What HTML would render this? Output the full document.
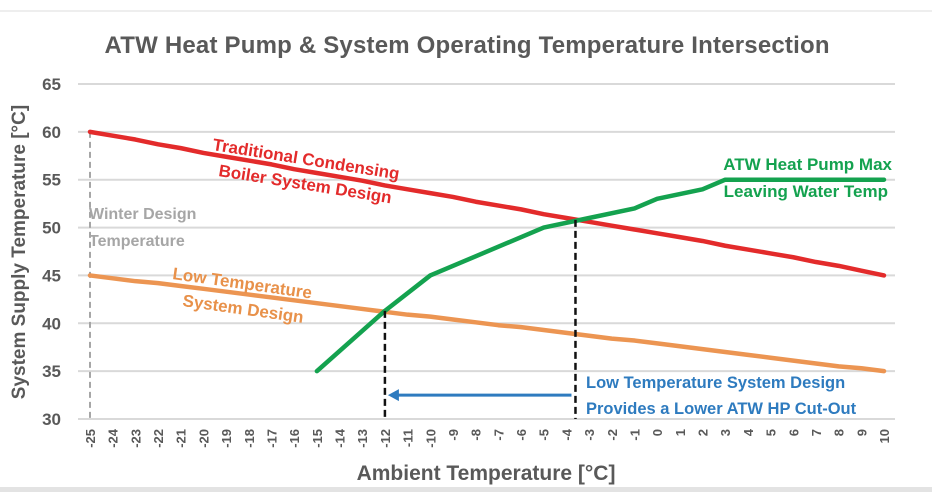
<!DOCTYPE html>
<html><head><meta charset="utf-8"><style>
body{margin:0;background:#fff;}
svg{display:block;font-family:"Liberation Sans",sans-serif;}
</style></head><body>
<svg id="c" width="932" height="492">
<line x1="0" y1="11" x2="932" y2="11" stroke="#ddd"/>
<rect x="0" y="487" width="932" height="5" fill="#e3e3e3"/>
<text x="467" y="53" text-anchor="middle" font-size="24" font-weight="bold" fill="#595959" textLength="725">ATW Heat Pump &amp; System Operating Temperature Intersection</text>
<text transform="translate(25,252) rotate(-90)" text-anchor="middle" font-size="19" font-weight="bold" fill="#595959">System Supply Temperature [°C]</text>
<text x="486" y="480" text-anchor="middle" font-size="21" font-weight="bold" fill="#595959">Ambient Temperature [°C]</text>
<g id="grid"></g><g id="ylab"></g><g id="xlab"></g><g id="series"></g>
<text x="89" y="219" font-size="16" font-weight="bold" fill="#a6a6a6">Winter Design</text>
<text x="89" y="246" font-size="16" font-weight="bold" fill="#a6a6a6">Temperature</text>
<text x="212" y="150" font-size="17" font-weight="bold" fill="#e32b2b" transform="rotate(9 212 150)">Traditional Condensing</text>
<text x="218" y="176" font-size="17" font-weight="bold" fill="#e32b2b" transform="rotate(9 218 176)">Boiler System Design</text>
<text x="172" y="279" font-size="17" font-weight="bold" fill="#e8914a" transform="rotate(8 172 279)">Low Temperature</text>
<text x="182" y="306" font-size="17" font-weight="bold" fill="#e8914a" transform="rotate(8 182 306)">System Design</text>
<text x="892" y="170" text-anchor="end" font-size="17" font-weight="bold" fill="#14a24f">ATW Heat Pump Max</text>
<text x="888" y="197" text-anchor="end" font-size="17" font-weight="bold" fill="#14a24f">Leaving Water Temp</text>
<text x="586" y="388" font-size="16.5" font-weight="bold" fill="#2e7bbf">Low Temperature System Design</text>
<text x="586" y="414" font-size="16.5" font-weight="bold" fill="#2e7bbf">Provides a Lower ATW HP Cut-Out</text>
</svg>
<script>
const categories=[-25,-24,-23,-22,-21,-20,-19,-18,-17,-16,-15,-14,-13,-12,-11,-10,-9,-8,-7,-6,-5,-4,-3,-2,-1,0,1,2,3,4,5,6,7,8,9,10];
const redValues=[60,59.6,59.2,58.7,58.3,57.8,57.4,57.0,56.6,56.1,55.7,55.3,54.9,54.4,54.0,53.6,53.2,52.7,52.3,51.9,51.4,51.0,50.6,50.2,49.8,49.4,49.0,48.6,48.1,47.7,47.3,46.9,46.4,46.0,45.5,45.0];
const orangeValues=[45,44.7,44.4,44.2,43.9,43.6,43.3,43.0,42.7,42.4,42.1,41.8,41.5,41.2,40.9,40.7,40.4,40.1,39.8,39.6,39.3,39.0,38.7,38.4,38.2,37.9,37.6,37.3,37.0,36.7,36.4,36.1,35.8,35.5,35.3,35.0];
const greenX=[-15,-12,-10,-8,-5,-3,-1,0,1,2,3,10];
const greenValues=[35,41.3,45,47,50,51,52,53,53.5,54,55,55];
const yTicks=[30,35,40,45,50,55,60,65];
const winterX=-25, lowCutX=-12, highCutX=-3.6, highCutY=50.8, lowCutY=41.3, arrowY=32.5;
const NS="http://www.w3.org/2000/svg";
const X=v=>90+(v+25)*(884-90)/35;
const Y=v=>419-(v-30)*(419-84)/35;
function mk(tag,attrs,parent,txt){const e=document.createElementNS(NS,tag);for(const k in attrs)e.setAttribute(k,attrs[k]);if(txt!=null)e.textContent=txt;document.getElementById(parent).appendChild(e);return e;}
yTicks.forEach(t=>{
 const l=mk('line',{x1:78,x2:895,y1:Y(t),y2:Y(t),stroke:'#d9d9d9','stroke-width':2},'grid');
 
 
 const s=mk('text',{x:61,y:Y(t)+6,'text-anchor':'end','font-size':17,'font-weight':'bold',fill:'#595959'},'ylab',t);
 
 
});
categories.forEach(c=>{
 const s=mk('text',{transform:`translate(${X(c)+5},429) rotate(-90)`,'text-anchor':'end','font-size':13,'font-weight':'bold',fill:'#595959'},'xlab',c);
 
 
});
function line(xs,ys,color,name){
 const p=mk('polyline',{points:xs.map((x,i)=>X(x)+','+Y(ys[i])).join(' '),fill:'none',stroke:color,'stroke-width':4.5,'stroke-linejoin':'round','stroke-linecap':'round'},'series');
 
 
}
let w=mk('line',{x1:X(winterX),x2:X(winterX),y1:Y(redValues[0]),y2:Y(30),stroke:'#a6a6a6','stroke-width':2,'stroke-dasharray':'6,4'},'series');


line(categories,redValues,'#e32b2b','red-series-line');
line(categories,orangeValues,'#ec9552','orange-series-line');
line(greenX,greenValues,'#14a24f','green-series-line');
[[lowCutX,lowCutY,'low-cutout-line'],[highCutX,highCutY,'high-cutout-line']].forEach(([x,y,n])=>{
 const d=mk('line',{x1:X(x),x2:X(x),y1:Y(y),y2:Y(30),stroke:'#111','stroke-width':2.5,'stroke-dasharray':'7,4'},'series');
 
 
});
const a=mk('line',{x1:X(highCutX)-4,x2:X(lowCutX)+12,y1:Y(arrowY),y2:Y(arrowY),stroke:'#2e7bbf','stroke-width':3},'series');


const h=mk('polygon',{points:`${X(lowCutX)+3},${Y(arrowY)} ${X(lowCutX)+14},${Y(arrowY)-6} ${X(lowCutX)+14},${Y(arrowY)+6}`,fill:'#2e7bbf'},'series');


</script>
</body></html>
